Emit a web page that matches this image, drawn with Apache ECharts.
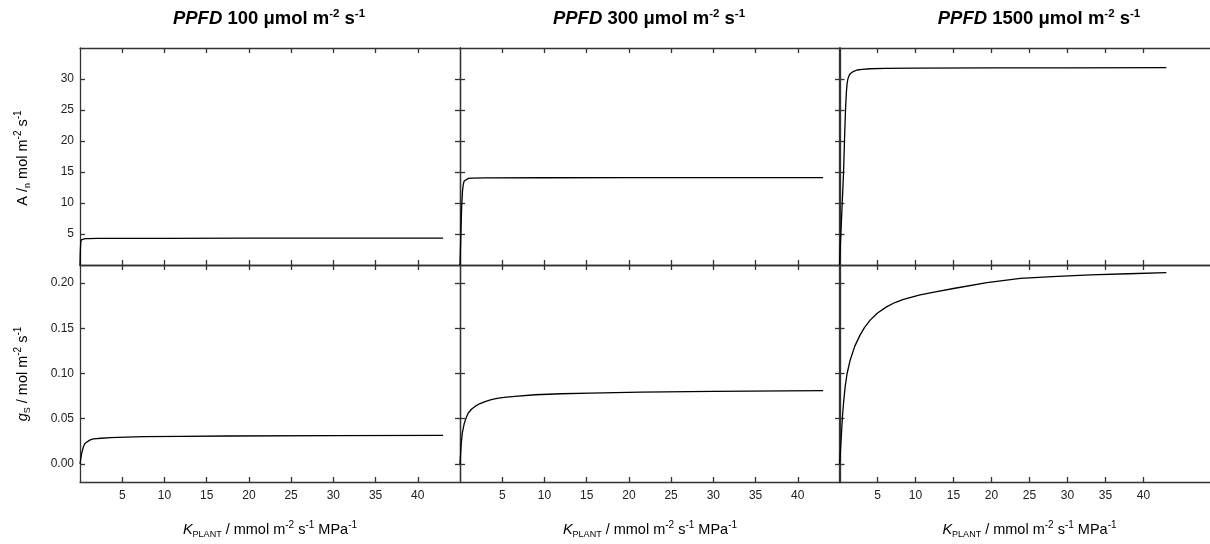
<!DOCTYPE html>
<html>
<head>
<meta charset="utf-8">
<script src="https://cdn.jsdelivr.net/npm/echarts@6/dist/echarts.min.js"></script>
<style>
    html, body { margin: 0; padding: 0; background: #fff; }
    /* the right-hand panel runs past the picture's edge, as in the original */
    #frame { width: 1210px; height: 544px; overflow: hidden; position: relative; }
    #main { width: 1230px; height: 544px; }
</style>
</head>
<body>
<div id="frame"><div id="main"></div></div>
<script>
    // one column per light level
    const ppfd = ['100', '300', '1500']
    const xMax = [45, 45, 50]
    const xTicks = [5, 10, 15, 20, 25, 30, 35, 40]
    const aTicks = [5, 10, 15, 20, 25, 30]
    const gsTicks = [0, 0.05, 0.10, 0.15, 0.20]

    // A (top row)
    const kA100 = [0, 0.03, 0.08, 0.15, 0.3, 0.6, 1, 2, 5, 10, 20, 30, 43]
    const A100 = [0, 2.0, 3.6, 4.05, 4.2, 4.25, 4.27, 4.29, 4.3, 4.31, 4.32, 4.33, 4.34]
    const kA300 = [0, 0.1, 0.2, 0.3, 0.4, 0.5, 0.7, 1.0, 1.5, 3, 10, 20, 30, 43]
    const A300 = [0, 5, 9.5, 12, 13.1, 13.55, 13.85, 13.97, 14.02, 14.05, 14.07, 14.08, 14.09, 14.1]
    const kA1500 = [0, 0.18, 0.36, 0.53, 0.66, 0.79, 0.9, 1.0, 1.1, 1.25, 1.45, 1.8, 2.3, 3, 4, 6, 10, 20, 30, 43]
    const A1500 = [0, 5.1, 10, 14.8, 20.2, 25, 27.8, 29.3, 30.0, 30.5, 30.9, 31.2, 31.45, 31.55, 31.65, 31.7, 31.75, 31.78, 31.8, 31.82]

    // gs (bottom row)
    const kG100 = [0, 0.1, 0.2, 0.4, 0.6, 0.8, 1.2, 1.6, 2.5, 3.6, 5.5, 7.5, 12, 17.4, 30, 43]
    const gs100 = [0, 0.006, 0.012, 0.019, 0.0228, 0.025, 0.0266, 0.0276, 0.0284, 0.029, 0.0296, 0.0301, 0.0305, 0.0309, 0.0313, 0.0316]
    const kG300 = [0, 0.12, 0.27, 0.51, 0.75, 0.98, 1.35, 1.78, 2.3, 2.97, 3.7, 4.55, 5.5, 6.5, 8.9, 12, 15.4, 21.4, 30, 43]
    const gs300 = [0, 0.0195, 0.034, 0.045, 0.0515, 0.0563, 0.0605, 0.0636, 0.0665, 0.069, 0.0711, 0.0728, 0.0738, 0.0746, 0.0765, 0.0776, 0.0784, 0.0795, 0.0803, 0.081]
    const kG1500 = [0, 0.09, 0.2, 0.39, 0.55, 0.75, 1.0, 1.41, 2.0, 2.72, 3.3, 4.04, 5.0, 6.24, 7.3, 8.42, 10.6, 12.8, 15.0, 19.4, 23.8, 28, 33, 38, 43]
    const gs1500 = [0, 0.008, 0.025, 0.0525, 0.069, 0.0857, 0.100, 0.115, 0.130, 0.1427, 0.151, 0.159, 0.167, 0.174, 0.1785, 0.182, 0.187, 0.1905, 0.194, 0.2004, 0.2053, 0.2072, 0.209, 0.2103, 0.2115]

    const curves = [
        [[kA100, A100], [kA300, A300], [kA1500, A1500]],
        [[kG100, gs100], [kG300, gs300], [kG1500, gs1500]]
    ]

    const font = 'Liberation Sans'
    const colLeft = [80, 460, 839.5]
    const colWidth = 380
    const rowTop = [48, 265]
    const rowHeight = 217
    const lineColor = '#333'

    const zip = (xs, ys) => xs.map((x, i) => [x, ys[i]])

    let grids = [], xAxes = [], yAxes = [], series = []
    for (let r = 0; r < 2; r++) {
        for (let c = 0; c < 3; c++) {
            let g = grids.length
            grids.push({left: colLeft[c], top: rowTop[r], width: colWidth, height: rowHeight})
            for (let pos of ['bottom', 'top']) {
                xAxes.push({
                    type: 'value', gridIndex: g, position: pos, min: 0, max: xMax[c],
                    axisLine: {onZero: false, lineStyle: {color: lineColor, width: 1.3}},
                    axisTick: {inside: true, length: 5, customValues: xTicks, lineStyle: {color: lineColor, width: 1.3}},
                    axisLabel: {
                        show: r === 1 && pos === 'bottom', customValues: xTicks, margin: 8,
                        fontFamily: font, fontSize: 12, color: '#222'
                    },
                    splitLine: {show: false}
                })
            }
            let yT = r === 0 ? aTicks : gsTicks
            for (let pos of ['left', 'right']) {
                // the far right edge of the last column lies outside the picture
                let edge = !(c === 2 && pos === 'right')
                yAxes.push({
                    type: 'value', gridIndex: g, position: pos,
                    min: r === 0 ? 0 : -0.02, max: r === 0 ? 35 : 0.22,
                    axisLine: {show: edge, onZero: false, lineStyle: {color: lineColor, width: 1.3}},
                    axisTick: {show: edge, inside: true, length: 5, customValues: yT, lineStyle: {color: lineColor, width: 1.3}},
                    axisLabel: {
                        show: c === 0 && pos === 'left', customValues: yT, margin: 6,
                        fontFamily: font, fontSize: 12, color: '#222',
                        formatter: v => r === 0 ? String(v) : v.toFixed(2)
                    },
                    splitLine: {show: false}
                })
            }
            let [ks, vs] = curves[r][c]
            series.push({
                type: 'line', xAxisIndex: 2 * g, yAxisIndex: 2 * g,
                data: zip(ks, vs), showSymbol: false, smooth: false,
                lineStyle: {color: '#000', width: 1.3}
            })
        }
    }

    const titleRich = {
        i: {fontFamily: font, fontSize: 18.5, fontWeight: 'bold', fontStyle: 'italic', color: '#000', lineHeight: 22},
        b: {fontFamily: font, fontSize: 18.5, fontWeight: 'bold', color: '#000', lineHeight: 22},
        s: {fontFamily: font, fontSize: 11.5, fontWeight: 'bold', color: '#000', lineHeight: 13, verticalAlign: 'top'}
    }
    const labelRich = {
        t: {fontFamily: font, fontSize: 14.5, color: '#111', lineHeight: 19},
        it: {fontFamily: font, fontSize: 14.5, fontStyle: 'italic', color: '#111', lineHeight: 19},
        s: {fontFamily: font, fontSize: 10, color: '#111', lineHeight: 11, verticalAlign: 'top'},
        d: {fontFamily: font, fontSize: 9, color: '#111', lineHeight: 11, verticalAlign: 'bottom'}
    }
    const titleX = [269, 649, 1039]
    const xName = '{it|K}{d|PLANT}{t| / mmol m}{s|-2}{t| s}{s|-1}{t| MPa}{s|-1}'

    let graphics = []
    for (let c = 0; c < 3; c++) {
        graphics.push({
            type: 'text', x: titleX[c], y: 19,
            style: {text: '{i|PPFD}{b| ' + ppfd[c] + ' μmol m}{s|-2}{b| s}{s|-1}', rich: titleRich,
                align: 'center', verticalAlign: 'middle', textAlign: 'center', textVerticalAlign: 'middle'}
        })
        graphics.push({
            type: 'text', x: colLeft[c] + colWidth / 2, y: 530,
            style: {text: xName, rich: labelRich,
                align: 'center', verticalAlign: 'middle', textAlign: 'center', textVerticalAlign: 'middle'}
        })
    }
    graphics.push({
        type: 'text', x: 23, y: 158, rotation: Math.PI / 2,
        style: {text: '{t|A }{t|/}{d|n}{t| mol m}{s|-2}{t| s}{s|-1}', rich: labelRich,
            align: 'center', verticalAlign: 'middle', textAlign: 'center', textVerticalAlign: 'middle'}
    })
    graphics.push({
        type: 'text', x: 23, y: 374, rotation: Math.PI / 2,
        style: {text: '{it|g}{d|S}{t| / mol m}{s|-2}{t| s}{s|-1}', rich: labelRich,
            align: 'center', verticalAlign: 'middle', textAlign: 'center', textVerticalAlign: 'middle'}
    })

    const chart = echarts.init(document.getElementById('main'))
    chart.setOption({
        animation: false,
        backgroundColor: '#fff',
        grid: grids,
        xAxis: xAxes,
        yAxis: yAxes,
        series: series,
        graphic: graphics
    })
</script>
</body>
</html>
